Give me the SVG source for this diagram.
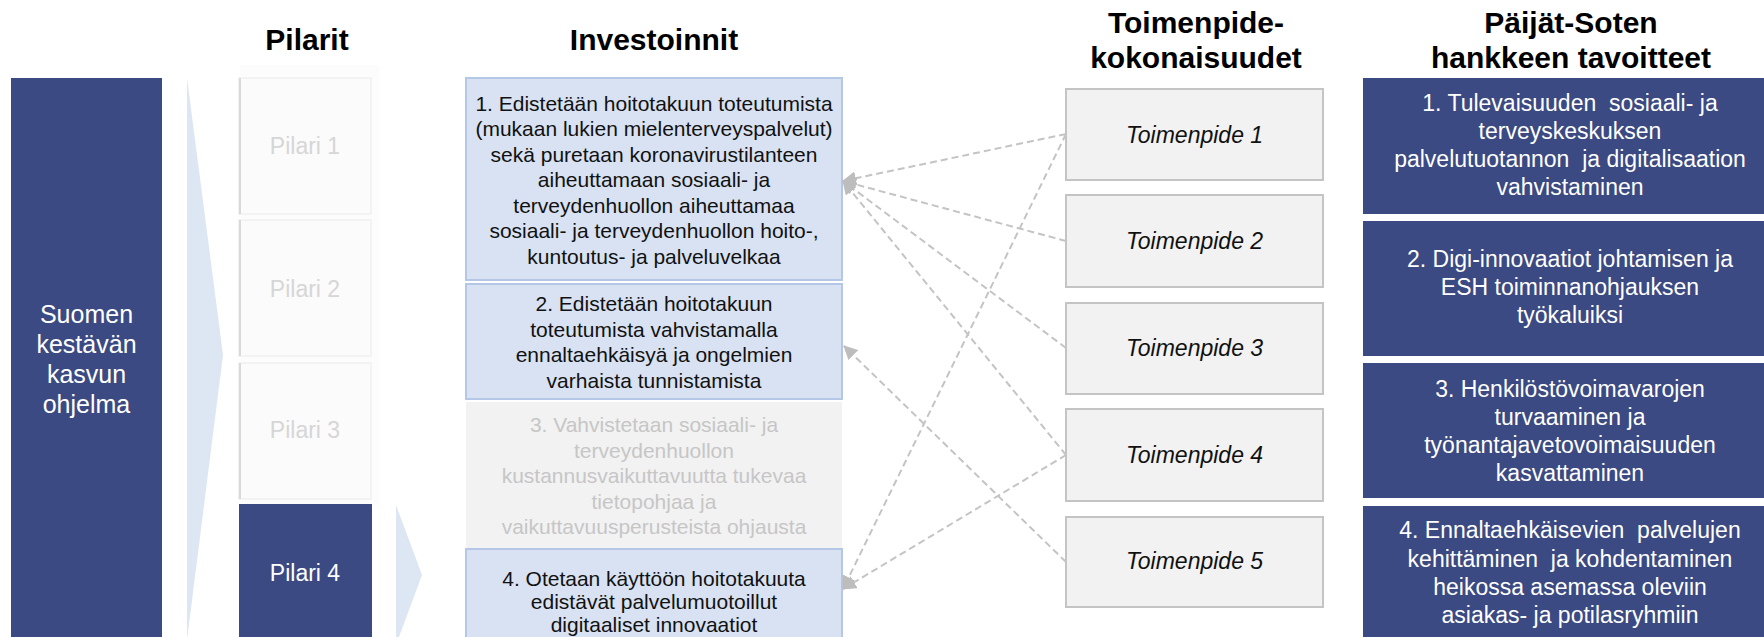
<svg xmlns="http://www.w3.org/2000/svg" width="1764" height="637" viewBox="0 0 1764 637">
<style>
text{font-family:"Liberation Sans",Arial,sans-serif;}
.hdr{font-size:30px;font-weight:bold;fill:#000;text-anchor:middle;}
.dark{fill:#3B4A82;}
.wt{fill:#fff;text-anchor:middle;}
.inv{fill:#D8E2F2;stroke:#B4C7E7;stroke-width:2;}
.it{font-size:21px;fill:#111;text-anchor:middle;}
.pil{fill:#FBFBFB;stroke:#F0F0F0;stroke-width:1.5;}
.pedge{stroke:#D9D9D9;stroke-width:2;}
.pt{font-size:23px;fill:#D6D6D6;text-anchor:middle;}
.tp{fill:#F2F2F2;stroke:#C4C4C4;stroke-width:2;}
.tt{font-size:23px;font-style:italic;fill:#111;text-anchor:middle;}
.gt{font-size:23px;white-space:pre;}
.con{fill:none;stroke:#C4C4C4;stroke-width:2;stroke-dasharray:7 4;}
.wedge{fill:#DDE6F3;}
</style>
<defs>
<marker id="ah" markerUnits="userSpaceOnUse" markerWidth="14" markerHeight="14" viewBox="0 0 14 14" refX="13" refY="7" orient="auto">
<path d="M0,0 L14,7 L0,14 Z" fill="#BDBDBD"/>
</marker>
</defs>

<!-- headers -->
<text class="hdr" x="307" y="50">Pilarit</text>
<text class="hdr" x="654" y="50">Investoinnit</text>
<text class="hdr" x="1196" y="33">Toimenpide-</text>
<text class="hdr" x="1196" y="68">kokonaisuudet</text>
<text class="hdr" x="1571" y="33">Päijät-Soten</text>
<text class="hdr" x="1571" y="68">hankkeen tavoitteet</text>

<!-- left program box -->
<g id="ohjelma">
<rect class="dark" x="11" y="78" width="151" height="570"/>
<text class="wt" font-size="25" x="86.5"><tspan x="86.5" y="323">Suomen</tspan><tspan x="86.5" y="353">kestävän</tspan><tspan x="86.5" y="383">kasvun</tspan><tspan x="86.5" y="413">ohjelma</tspan></text>
</g>

<!-- wedges -->
<polygon class="wedge" points="187,78 223,355 187,640"/>
<polygon class="wedge" points="396,505 422,575 396,645"/>

<!-- pillars -->
<rect x="240" y="65" width="139" height="440" fill="#FCFCFC"/>
<g id="pilari1">
<rect class="pil" x="239" y="78" width="132" height="136"/>
<line class="pedge" x1="240" y1="78" x2="240" y2="214"/>
<text class="pt" x="305" y="154">Pilari 1</text>
</g>
<g id="pilari2">
<rect class="pil" x="239" y="220" width="132" height="136"/>
<line class="pedge" x1="240" y1="220" x2="240" y2="356"/>
<text class="pt" x="305" y="297">Pilari 2</text>
</g>
<g id="pilari3">
<rect class="pil" x="239" y="363" width="132" height="136"/>
<line class="pedge" x1="240" y1="363" x2="240" y2="499"/>
<text class="pt" x="305" y="438">Pilari 3</text>
</g>
<g id="pilari4">
<rect class="dark" x="239" y="504" width="133" height="145"/>
<text class="wt" font-size="23" x="305" y="581">Pilari 4</text>
</g>

<!-- investments -->
<g id="inv1">
<rect class="inv" x="466" y="78" width="376" height="202"/>
<text class="it"><tspan x="654" y="110.5">1. Edistetään hoitotakuun toteutumista</tspan><tspan x="654" y="136">(mukaan lukien mielenterveyspalvelut)</tspan><tspan x="654" y="161.5">sekä puretaan koronavirustilanteen</tspan><tspan x="654" y="187">aiheuttamaan sosiaali- ja</tspan><tspan x="654" y="212.5">terveydenhuollon aiheuttamaa</tspan><tspan x="654" y="238">sosiaali- ja terveydenhuollon hoito-,</tspan><tspan x="654" y="263.5">kuntoutus- ja palveluvelkaa</tspan></text>
</g>
<g id="inv2">
<rect class="inv" x="466" y="284" width="376" height="115"/>
<text class="it"><tspan x="654" y="311">2. Edistetään hoitotakuun</tspan><tspan x="654" y="337">toteutumista vahvistamalla</tspan><tspan x="654" y="362">ennaltaehkäisyä ja ongelmien</tspan><tspan x="654" y="388">varhaista tunnistamista</tspan></text>
</g>
<g id="inv3">
<rect x="466" y="402" width="376" height="147" fill="#F2F2F2"/>
<text class="it" style="fill:#C6C6C6"><tspan x="654" y="432">3. Vahvistetaan sosiaali- ja</tspan><tspan x="654" y="457.5">terveydenhuollon</tspan><tspan x="654" y="483">kustannusvaikuttavuutta tukevaa</tspan><tspan x="654" y="508.5">tietopohjaa ja</tspan><tspan x="654" y="534">vaikuttavuusperusteista ohjausta</tspan></text>
</g>
<g id="inv4">
<rect class="inv" x="466" y="549" width="376" height="100"/>
<text class="it"><tspan x="654" y="586">4. Otetaan käyttöön hoitotakuuta</tspan><tspan x="654" y="609">edistävät palvelumuotoillut</tspan><tspan x="654" y="632">digitaaliset innovaatiot</tspan></text>
</g>

<!-- connectors -->
<g id="connectors">
<line class="con" x1="1066" y1="134" x2="843" y2="181" marker-end="url(#ah)"/>
<line class="con" x1="1066" y1="241" x2="843" y2="181" marker-end="url(#ah)"/>
<line class="con" x1="1066" y1="348" x2="843" y2="181" marker-end="url(#ah)"/>
<line class="con" x1="1066" y1="455" x2="843" y2="181" marker-end="url(#ah)"/>
<line class="con" x1="1066" y1="562" x2="844" y2="346" marker-end="url(#ah)"/>
<line class="con" x1="1066" y1="134" x2="843" y2="589" marker-end="url(#ah)"/>
<line class="con" x1="1066" y1="455" x2="843" y2="589" marker-end="url(#ah)"/>
</g>

<!-- toimenpiteet -->
<g id="tp1"><rect class="tp" x="1066" y="89" width="257" height="91"/><text class="tt" x="1194.5" y="143">Toimenpide 1</text></g>
<g id="tp2"><rect class="tp" x="1066" y="195" width="257" height="92"/><text class="tt" x="1194.5" y="249">Toimenpide 2</text></g>
<g id="tp3"><rect class="tp" x="1066" y="303" width="257" height="91"/><text class="tt" x="1194.5" y="356">Toimenpide 3</text></g>
<g id="tp4"><rect class="tp" x="1066" y="409" width="257" height="92"/><text class="tt" x="1194.5" y="463">Toimenpide 4</text></g>
<g id="tp5"><rect class="tp" x="1066" y="517" width="257" height="90"/><text class="tt" x="1194.5" y="569">Toimenpide 5</text></g>

<!-- goals -->
<g id="goal1">
<rect class="dark" x="1363" y="78" width="420" height="136"/>
<text class="wt gt"><tspan x="1570" y="111">1. Tulevaisuuden  sosiaali- ja</tspan><tspan x="1570" y="139">terveyskeskuksen</tspan><tspan x="1570" y="167">palvelutuotannon  ja digitalisaation</tspan><tspan x="1570" y="195">vahvistaminen</tspan></text>
</g>
<g id="goal2">
<rect class="dark" x="1363" y="221" width="420" height="135"/>
<text class="wt gt"><tspan x="1570" y="267">2. Digi-innovaatiot johtamisen ja</tspan><tspan x="1570" y="295">ESH toiminnanohjauksen</tspan><tspan x="1570" y="323">työkaluiksi</tspan></text>
</g>
<g id="goal3">
<rect class="dark" x="1363" y="363" width="420" height="135"/>
<text class="wt gt"><tspan x="1570" y="397">3. Henkilöstövoimavarojen</tspan><tspan x="1570" y="425">turvaaminen ja</tspan><tspan x="1570" y="453">työnantajavetovoimaisuuden</tspan><tspan x="1570" y="481">kasvattaminen</tspan></text>
</g>
<g id="goal4">
<rect class="dark" x="1363" y="506" width="420" height="145"/>
<text class="wt gt"><tspan x="1570" y="538">4. Ennaltaehkäisevien  palvelujen</tspan><tspan x="1570" y="567">kehittäminen  ja kohdentaminen</tspan><tspan x="1570" y="595">heikossa asemassa oleviin</tspan><tspan x="1570" y="623">asiakas- ja potilasryhmiin</tspan></text>
</g>
</svg>
